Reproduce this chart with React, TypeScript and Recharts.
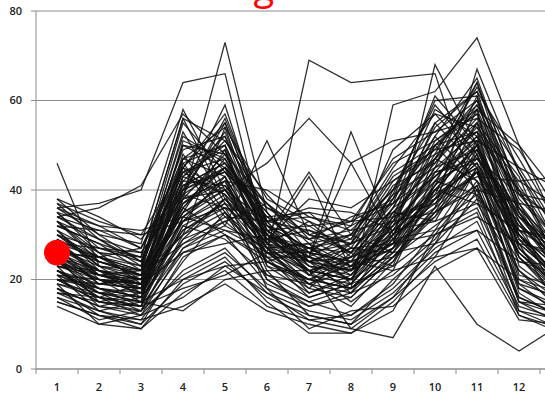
import { ComposedChart, Line, XAxis, YAxis, CartesianGrid } from 'recharts';

const categories = ['1', '2', '3', '4', '5', '6', '7', '8', '9', '10', '11', '12', '13'];
const yTicks = [0, 20, 40, 60, 80];
const markerValue = 26;
const title = 'Student grade scores';

// one row per student, one value per period
const series: number[][] = [
  [46, 23, 20, 36, 30, 25, 20, 18, 24, 35, 44, 22, 15],
  [34, 36, 41, 57, 48, 30, 25, 22, 28, 40, 50, 30, 20],
  [36, 37, 40, 64, 66, 28, 22, 20, 30, 42, 55, 35, 22],
  [28, 22, 18, 38, 73, 35, 24, 20, 26, 38, 48, 26, 18],
  [30, 25, 21, 30, 35, 26, 69, 64, 65, 66, 38, 30, 20],
  [22, 18, 16, 28, 32, 51, 30, 28, 32, 40, 45, 25, 16],
  [25, 20, 18, 35, 40, 46, 56, 46, 51, 53, 60, 35, 20],
  [20, 15, 14, 40, 59, 30, 25, 53, 30, 45, 64, 40, 25],
  [18, 14, 13, 30, 54, 28, 43, 22, 28, 68, 50, 30, 18],
  [15, 12, 10, 25, 30, 24, 20, 18, 59, 62, 74, 50, 30],
  [24, 20, 17, 45, 55, 32, 27, 23, 25, 36, 67, 44, 26],
  [32, 28, 22, 50, 45, 30, 22, 9, 7, 23, 10, 4, 10],
  [19, 10, 9, 20, 25, 15, 8, 8, 13, 30, 35, 12, 9],
  [17, 13, 11, 14, 19, 13, 10, 8, 15, 25, 40, 15, 12],
  [21, 17, 15, 13, 20, 22, 12, 10, 20, 28, 45, 18, 14],
  [26, 22, 20, 30, 38, 27, 18, 16, 25, 35, 50, 20, 15],
  [38, 30, 24, 49, 52, 33, 31, 26, 37, 47, 63, 44, 29],
  [35, 27, 25, 41, 46, 35, 24, 28, 33, 51, 57, 37, 22],
  [33, 24, 21, 44, 39, 29, 27, 22, 36, 43, 52, 34, 26],
  [31, 26, 19, 36, 47, 31, 22, 25, 29, 38, 55, 29, 19],
  [29, 21, 22, 33, 43, 27, 28, 19, 31, 45, 49, 32, 24],
  [27, 23, 17, 39, 36, 30, 21, 27, 26, 41, 61, 27, 17],
  [26, 19, 20, 35, 49, 25, 25, 20, 34, 37, 47, 36, 21],
  [25, 22, 16, 42, 41, 28, 19, 24, 28, 50, 53, 25, 15],
  [24, 17, 18, 31, 37, 32, 23, 18, 25, 34, 44, 30, 20],
  [23, 20, 15, 46, 34, 26, 26, 21, 32, 39, 58, 23, 16],
  [22, 16, 19, 37, 45, 24, 18, 26, 23, 44, 46, 28, 13],
  [21, 18, 14, 34, 31, 29, 24, 17, 30, 36, 51, 21, 18],
  [20, 15, 17, 43, 50, 23, 20, 23, 27, 47, 42, 33, 14],
  [19, 17, 13, 29, 38, 27, 17, 20, 35, 33, 48, 19, 12],
  [18, 14, 16, 38, 42, 22, 22, 15, 22, 42, 39, 26, 17],
  [17, 16, 12, 27, 33, 25, 16, 19, 29, 31, 45, 17, 11],
  [16, 13, 15, 32, 29, 21, 19, 14, 24, 40, 37, 22, 13],
  [15, 12, 11, 24, 35, 20, 14, 17, 21, 29, 41, 15, 10],
  [37, 29, 23, 52, 46, 34, 29, 31, 40, 55, 62, 47, 31],
  [34, 31, 27, 47, 54, 38, 33, 29, 43, 49, 60, 41, 27],
  [32, 28, 25, 56, 51, 36, 30, 33, 38, 52, 65, 39, 33],
  [30, 27, 24, 45, 57, 33, 35, 27, 41, 46, 59, 45, 30],
  [28, 25, 22, 50, 48, 37, 28, 30, 45, 57, 54, 42, 36],
  [27, 24, 21, 40, 53, 31, 32, 26, 39, 60, 61, 38, 28],
  [26, 25, 23, 55, 44, 34, 26, 32, 47, 53, 56, 49, 34],
  [24, 21, 20, 47, 50, 29, 31, 28, 42, 48, 64, 36, 25],
  [23, 22, 21, 39, 55, 32, 29, 34, 37, 58, 52, 40, 23],
  [22, 19, 18, 51, 47, 30, 27, 29, 44, 50, 57, 31, 29],
  [21, 20, 19, 43, 52, 28, 33, 25, 36, 54, 62, 35, 24],
  [20, 18, 17, 36, 45, 35, 25, 30, 40, 47, 55, 43, 21],
  [25, 15, 13, 26, 30, 19, 15, 12, 18, 27, 33, 14, 11],
  [23, 14, 12, 22, 27, 17, 13, 11, 17, 26, 31, 13, 9],
  [21, 13, 10, 19, 24, 16, 12, 10, 16, 24, 29, 12, 8],
  [18, 12, 9, 17, 22, 14, 11, 12, 19, 31, 36, 16, 12],
  [16, 11, 13, 21, 26, 18, 9, 13, 14, 22, 27, 11, 10],
  [14, 10, 12, 16, 23, 17, 11, 9, 16, 28, 38, 13, 11],
  [36, 30, 28, 58, 40, 28, 26, 24, 38, 61, 50, 33, 22],
  [33, 26, 25, 56, 38, 30, 22, 20, 34, 55, 45, 31, 25],
  [29, 24, 22, 53, 37, 26, 24, 22, 40, 59, 48, 28, 20],
  [31, 22, 20, 48, 35, 24, 20, 25, 36, 52, 42, 26, 18],
  [26, 25, 27, 45, 32, 27, 28, 23, 32, 50, 40, 24, 23],
  [35, 32, 31, 34, 42, 40, 34, 32, 37, 44, 47, 39, 37],
  [32, 31, 30, 33, 36, 34, 35, 33, 34, 38, 43, 42, 43],
  [28, 27, 26, 38, 40, 33, 34, 31, 33, 35, 40, 37, 35],
  [20, 19, 21, 28, 34, 33, 36, 35, 31, 33, 37, 31, 28],
  [23, 21, 19, 26, 28, 30, 24, 27, 28, 30, 34, 28, 26],
  [19, 16, 15, 20, 23, 24, 27, 30, 26, 28, 31, 24, 21],
  [17, 15, 14, 18, 21, 26, 22, 24, 22, 25, 27, 20, 17],
  [37, 33, 30, 45, 40, 29, 38, 36, 42, 49, 51, 45, 40],
  [30, 23, 22, 41, 44, 36, 32, 33, 46, 51, 58, 50, 38],
  [25, 18, 16, 29, 33, 37, 26, 28, 39, 45, 53, 40, 32],
  [22, 16, 14, 27, 31, 26, 19, 22, 33, 42, 47, 34, 27],
  [33, 29, 24, 44, 49, 23, 17, 21, 30, 37, 44, 18, 13],
  [29, 25, 20, 37, 43, 20, 15, 18, 27, 35, 41, 16, 12],
  [27, 22, 19, 33, 39, 18, 14, 16, 25, 32, 39, 15, 14],
  [24, 20, 17, 31, 36, 21, 16, 19, 23, 30, 42, 19, 16],
  [38, 34, 29, 40, 45, 37, 30, 26, 31, 38, 46, 32, 26],
  [36, 32, 27, 42, 51, 39, 29, 24, 28, 34, 49, 29, 24],
  [34, 29, 26, 39, 56, 33, 23, 22, 27, 41, 52, 27, 19],
  [26, 21, 19, 35, 41, 30, 44, 30, 35, 43, 50, 30, 22],
  [22, 17, 15, 33, 38, 27, 25, 46, 29, 39, 45, 28, 20],
  [30, 24, 21, 39, 45, 33, 21, 28, 49, 57, 47, 35, 24],
  [27, 19, 18, 41, 46, 29, 23, 21, 31, 44, 54, 33, 21],
  [24, 18, 16, 37, 42, 27, 21, 19, 29, 40, 50, 31, 19],
  [31, 23, 21, 46, 50, 31, 25, 23, 34, 47, 58, 37, 25],
  [28, 21, 19, 43, 39, 28, 24, 22, 32, 43, 51, 30, 22],
  [33, 25, 22, 40, 44, 30, 26, 24, 35, 46, 56, 36, 27],
  [22, 17, 16, 34, 40, 26, 20, 18, 27, 38, 46, 27, 18],
  [29, 20, 19, 47, 43, 27, 22, 20, 33, 48, 53, 34, 23],
  [25, 21, 18, 38, 48, 31, 24, 25, 30, 41, 49, 29, 20],
  [35, 26, 23, 44, 47, 32, 27, 26, 38, 50, 59, 39, 28],
  [20, 16, 14, 32, 37, 24, 19, 17, 26, 36, 44, 25, 17],
];

const data = categories.map((label, i) => {
  const row: Record<string, string | number> = { label };
  series.forEach((s, j) => {
    row[`s${j}`] = s[i];
  });
  if (i === 0) row.marker = markerValue;
  return row;
});

const AXIS = '#8c8c8c';
const TEXT = '#222';
const FONT = '"Open Sans", "DejaVu Sans", sans-serif';
const BAND = 42;

// Excel-style tick: mark on the band edge, label in the middle
const XTick = (props: any) => {
  const { x, y, payload } = props;
  return (
    <g>
      <line x1={x - BAND / 2} x2={x - BAND / 2} y1={y - 14} y2={y - 9} stroke={AXIS} />
      <text x={x} y={y} dy="0.71em" textAnchor="middle" fill={TEXT} fontSize={11} fontWeight={600} fontFamily={FONT}>
        {payload.value}
      </text>
    </g>
  );
};

export default function App() {
  return (
    <div style={{ position: 'fixed', left: 0, top: 0, width: 545, height: 394, overflow: 'hidden', background: '#fff' }}>
      <ComposedChart width={582} height={394} data={data} margin={{ top: 11, right: 0, bottom: 0, left: 0 }}>
        <CartesianGrid vertical={false} stroke={AXIS} />
        <XAxis
          dataKey="label"
          scale="band"
          interval={0}
          height={25}
          axisLine={{ stroke: AXIS }}
          tickLine={false}
          tickSize={5}
          tickMargin={9}
          tick={<XTick />}
        />
        <YAxis
          width={36}
          domain={[0, 80]}
          ticks={yTicks}
          axisLine={{ stroke: AXIS }}
          tickLine={{ stroke: AXIS }}
          tickSize={5}
          tickMargin={9}
          tick={{ fill: TEXT, fontSize: 11, fontWeight: 600, fontFamily: FONT }}
        />
        {series.map((_, j) => (
          <Line
            key={j}
            dataKey={`s${j}`}
            stroke="#111"
            strokeOpacity={0.88}
            strokeWidth={1.3}
            dot={false}
            activeDot={false}
            isAnimationActive={false}
          />
        ))}
        <Line
          dataKey="marker"
          stroke="none"
          dot={{ r: 13, fill: '#ff0000', stroke: 'none' }}
          activeDot={false}
          isAnimationActive={false}
        />
      </ComposedChart>
      <svg width={545} height={20} style={{ position: 'absolute', left: 0, top: 0 }}>
        <text x={292} y={0} textAnchor="middle" fill="#ff0000" fontSize={38} fontFamily={FONT}>
          {title}
        </text>
      </svg>
    </div>
  );
}
